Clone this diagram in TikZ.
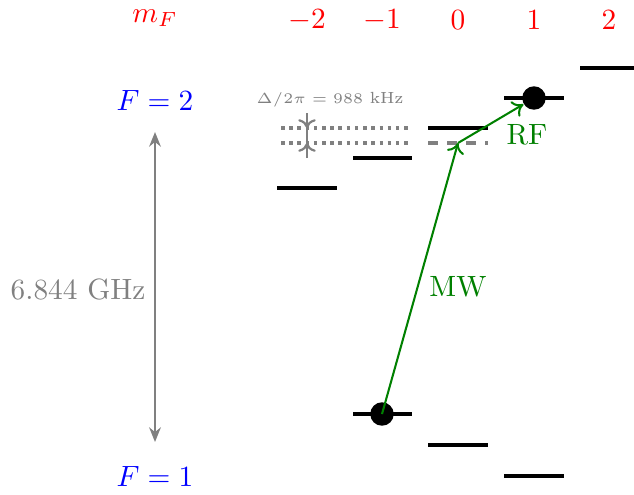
\documentclass[tikz,border=0pt]{standalone}
\usetikzlibrary{arrows.meta}
\definecolor{dgreen}{rgb}{0,0.5,0}
\begin{document}
\begin{tikzpicture}[x=0.341pt,y=-0.341pt,
  level/.style={line width=1.2pt,black},
  dotlvl/.style={gray,line width=1.2pt,dash pattern=on 1.2pt off 1.6pt},
  dashlvl/.style={gray,line width=1.2pt,dash pattern=on 3.5pt off 3pt},
  atom/.style={circle,fill=black,inner sep=0pt,minimum size=8pt},
  trans/.style={dgreen,line width=0.7pt,-{To[length=3.5pt,width=6pt]}},
  mflab/.style={red,inner sep=0pt},
  flab/.style={blue,inner sep=0pt}]
\useasboundingbox (0,0) rectangle (634,494);
% labels
\node[mflab] (mf) at (155,18) {$m_F$};
\node[mflab] (m2n) at (307,20) {$-2$};
\node[mflab] (m1n) at (382,20) {$-1$};
\node[mflab] (m0) at (458,20) {$0$};
\node[mflab] (m1) at (534,20) {$1$};
\node[mflab] (m2) at (609,20) {$2$};
\node[flab] (F2) at (155,100) {$F=2$};
\node[flab] (F1) at (155,476) {$F=1$};
% hyperfine splitting
\coordinate (gt) at (155,132);
\coordinate (gb) at (155,442);
\draw[gray,line width=0.75pt,{Stealth[length=5pt,width=4pt]}-{Stealth[length=5pt,width=4pt]}] (gt) -- (gb);
\node[gray,inner sep=0pt] (hf) at (78,289) {6.844 GHz};
% F=2 levels
\draw[level] (277,188) -- (337,188);
\draw[level] (353,158) -- (412,158);
\draw[level] (428,128) -- (488,128);
\draw[level] (504,98) -- (564,98);
\draw[level] (580,68) -- (634,68);
% F=1 levels
\draw[level] (353,414) -- (412,414);
\draw[level] (428,445) -- (488,445);
\draw[level] (504,476) -- (564,476);
% dotted and dashed
\draw[dotlvl] (281,128) -- (412,128);
\draw[dotlvl] (281,143) -- (412,143);
\draw[dashlvl] (428,143) -- (488,143);
% detuning arrows
\coordinate (dt) at (307,113);
\coordinate (d1) at (307,128);
\coordinate (d2) at (307,143);
\coordinate (db) at (307,158);
\draw[gray,line width=0.75pt,-{To[length=3pt,width=6pt]}] (dt) -- (d1);
\draw[gray,line width=0.75pt,-{To[length=3pt,width=6pt]}] (db) -- (d2);
\draw[gray,line width=0.75pt] (d1) -- (d2);
\node[gray,font=\fontsize{5.5}{6.5}\selectfont,inner sep=0pt] (dl) at (330,100) {$\Delta/2\pi=988$ kHz};
% atoms
\node[atom] (a1) at (382,414) {};
\node[atom] (a2) at (534,98) {};
\coordinate (v) at (458,143);
% transitions
\draw[trans] (a1.center) -- (v);
\draw[trans] (v) -- (a2);
\node[dgreen,inner sep=0pt] (mw) at (458,287) {MW};
\node[dgreen,inner sep=0pt] (rf) at (527,135) {RF};
\end{tikzpicture}
\end{document}
